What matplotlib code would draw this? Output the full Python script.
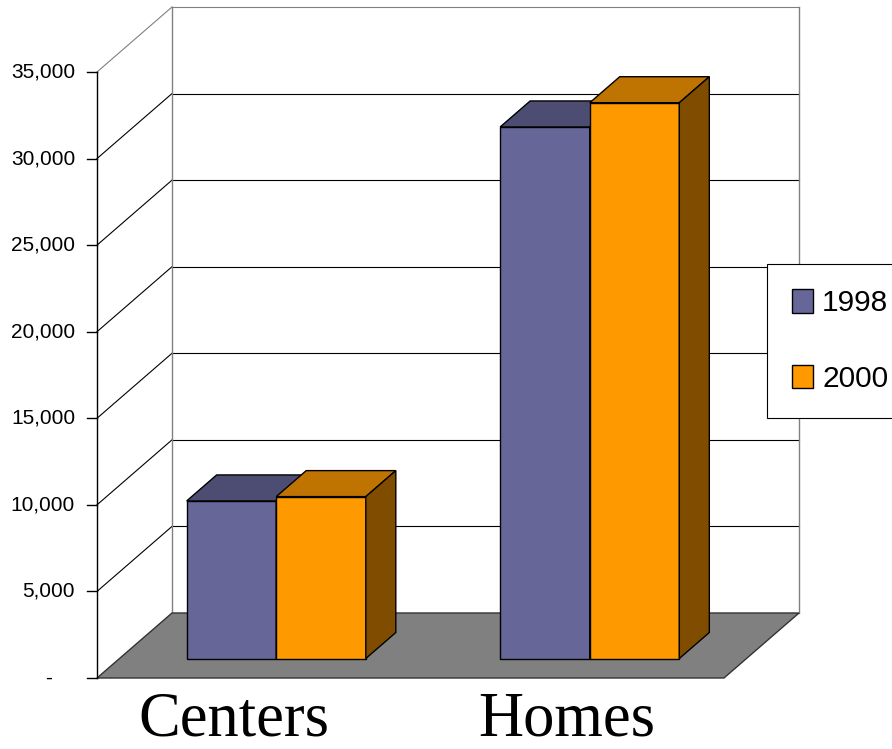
import matplotlib
matplotlib.use("Agg")
import matplotlib.pyplot as plt
from matplotlib.patches import Polygon, Patch

plt.rcParams['font.family'] = ['Liberation Sans', 'DejaVu Sans']

categories = ['Centers', 'Homes']
years = ['1998', '2000']
values_1998 = [9100, 30700]
values_2000 = [9350, 32100]
ytick_values = [0, 5000, 10000, 15000, 20000, 25000, 30000, 35000]
ytick_labels = ['-', '5,000', '10,000', '15,000', '20,000', '25,000', '30,000', '35,000']

front_colors = ['#666699', '#FF9900']
top_colors = ['#4D4D73', '#BF7300']
side_colors = ['#3D3D5C', '#804D00']

W, H = 892, 749
fig = plt.figure(figsize=(W / 100, H / 100), dpi=100)
ax = fig.add_axes([0, 0, 1, 1])
ax.axis('off')

n = len(categories)
ymax = ytick_values[-1]
# front plane of the 3d box, in pixels from the top-left
left_px, right_px = 97, 724
base_px, top_px = 678, 72
sx = (right_px - left_px) / n
sy = (base_px - top_px) / ymax
ax.set_xlim(-left_px / sx, (W - left_px) / sx)
ax.set_ylim(-(H - base_px) / sy, base_px / sy)

# depth of the box (oblique projection)
dx = 75 / sx
dy = 65 / sy
f1, f2 = 0.3, 0.7          # bars sit between these depth fractions
w = 1 / 3.5                # gap width 150%

gray = '#808080'
# side wall and back wall gridlines
for v in ytick_values[1:]:
    col = gray if v == ymax else 'black'
    ax.plot([0, dx], [v, v + dy], color=col, lw=0.8, zorder=1)
    ax.plot([dx, n + dx], [v + dy, v + dy], color=col, lw=0.8, zorder=1)
ax.plot([dx, dx], [dy, ymax + dy], color=gray, lw=1, zorder=1)
ax.plot([n + dx, n + dx], [dy, ymax + dy], color=gray, lw=1, zorder=1)

# floor
floor = Polygon([(0, 0), (n, 0), (n + dx, dy), (dx, dy)], closed=True,
                facecolor=gray, edgecolor='#333333', lw=1, zorder=2)
ax.add_patch(floor)

# value axis
ax.plot([0, 0], [0, ymax], color='black', lw=1, zorder=3)
tick_len = 10 / sx
for v, lab in zip(ytick_values, ytick_labels):
    ax.plot([-tick_len, 0], [v, v], color='black', lw=1, zorder=3)
    xpos = -22 / sx if lab != '-' else -45 / sx
    ax.text(xpos, v, lab, ha='right', va='center', fontsize=15)

# bars
series = [values_1998, values_2000]
z = 4
for i in range(n):
    for j, vals in enumerate(series):
        v = vals[i]
        xl = i + 0.5 - w + j * w + f1 * dx
        xr = xl + w
        y0 = f1 * dy
        top = y0 + v
        bx = (f2 - f1) * dx
        by = (f2 - f1) * dy
        ax.bar(xl, v, width=w, bottom=y0, align='edge', color=front_colors[j],
               edgecolor='black', linewidth=1, zorder=z)
        ax.add_patch(Polygon([(xl, top), (xr, top), (xr + bx, top + by), (xl + bx, top + by)],
                             closed=True, facecolor=top_colors[j], edgecolor='black',
                             lw=1, zorder=z))
        ax.add_patch(Polygon([(xr, y0), (xr, top), (xr + bx, top + by), (xr + bx, y0 + by)],
                             closed=True, facecolor=side_colors[j], edgecolor='black',
                             lw=1, zorder=z))
        z += 1

# category labels
label_shift = [-20, 0]
for i, cat in enumerate(categories):
    ax.text(i + 0.5 + label_shift[i] / sx, -720 / sy + base_px / sy, cat, ha='center',
            va='center', fontsize=45, family=['Liberation Serif', 'DejaVu Serif'])

handles = [Patch(facecolor=front_colors[j], edgecolor='black', label=years[j])
           for j in range(len(years))]
leg = fig.legend(handles=handles, loc='upper left', bbox_to_anchor=(767 / W, 1 - 264 / H),
                 fancybox=False, edgecolor='black', framealpha=1, fontsize=21.5,
                 handlelength=0.7, handleheight=0.82, handletextpad=0.3,
                 labelspacing=1.58, borderpad=0.85, borderaxespad=0)
leg.get_frame().set_linewidth(0.8)

fig.savefig('out.png', dpi=100)
